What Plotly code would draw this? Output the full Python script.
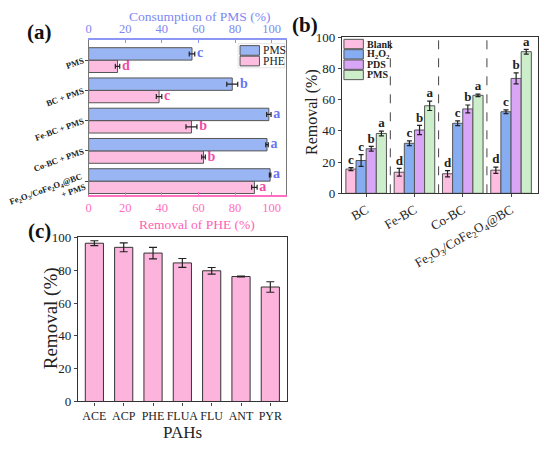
import plotly.graph_objects as go

# ---- panel (a): PMS consumption / PHE removal ----
a_labels = ["PMS", "BC + PMS", "Fe-BC + PMS", "Co-BC + PMS",
            "Fe<sub>2</sub>O<sub>3</sub>/CoFe<sub>2</sub>O<sub>4</sub>@BC<br>+ PMS"]
a_series = ["PMS", "PHE"]
a_pms = [56.5, 78.5, 98.5, 97.5, 99.2]
a_pms_err = [1.5, 3.0, 1.2, 0.7, 0.4]
a_pms_sig = ["c", "b", "a", "a", "a"]
a_phe = [15.8, 38.5, 56.2, 62.8, 90.6]
a_phe_err = [1.2, 1.5, 3.0, 1.0, 1.5]
a_phe_sig = ["d", "c", "b", "b", "a"]

# ---- panel (b): oxidant comparison ----
b_groups = ["BC", "Fe-BC", "Co-BC", "Fe<sub>2</sub>O<sub>3</sub>/CoFe<sub>2</sub>O<sub>4</sub>@BC"]
b_series = ["Blank", "H<sub>2</sub>O<sub>2</sub>", "PDS", "PMS"]
b_blank = [15.5, 13.5, 12.5, 14.8]
b_blank_err = [1.0, 2.5, 2.0, 2.0]
b_h2o2 = [21.0, 32.0, 44.8, 52.2]
b_h2o2_err = [3.8, 1.5, 1.5, 1.2]
b_pds = [28.5, 40.5, 54.0, 73.5]
b_pds_err = [1.5, 3.0, 2.5, 3.5]
b_pms = [38.3, 56.0, 62.7, 90.6]
b_pms_err = [1.5, 3.0, 0.8, 1.5]
b_sig = [["c", "d", "d", "d"], ["c", "c", "c", "c"],
         ["b", "b", "b", "b"], ["a", "a", "a", "a"]]

# ---- panel (c): PAHs ----
c_pahs = ["ACE", "ACP", "PHE", "FLUA", "FLU", "ANT", "PYR"]
c_removal = [96.5, 94.0, 90.5, 84.5, 79.7, 76.2, 69.8]
c_err = [1.5, 2.7, 3.5, 2.7, 2.0, 0.2, 3.2]

FONT = "Liberation Serif"
BLUE_TXT = "#6677f2"
PINK_TXT = "#f04aa8"
EDGE = "#555555"
a_colors = ["#9ab5f3", "#fdbde0"]
b_colors = ["#fdbde0", "#86acf2", "#d9a5f6", "#cdeecb"]

fig = go.Figure()

# panel (a) bars
ya = list(range(len(a_labels)))
fig.add_trace(go.Bar(
    y=ya, x=a_pms, orientation="h", offset=-0.41, width=0.41,
    name=a_series[0], showlegend=False, xaxis="x2", yaxis="y",
    marker=dict(color=a_colors[0], line=dict(color=EDGE, width=1)),
    error_x=dict(type="data", array=a_pms_err, color="#222", thickness=1.2, width=2.5)))
fig.add_trace(go.Bar(
    y=ya, x=a_phe, orientation="h", offset=0, width=0.41,
    name=a_series[1], showlegend=False, xaxis="x", yaxis="y",
    marker=dict(color=a_colors[1], line=dict(color=EDGE, width=1)),
    error_x=dict(type="data", array=a_phe_err, color="#222", thickness=1.2, width=2.5)))
fig.add_trace(go.Scatter(
    y=[v - 0.205 for v in ya], x=[v + e + 1.2 for v, e in zip(a_pms, a_pms_err)],
    xaxis="x2", yaxis="y", mode="text", text=[f"<b>{s}</b>" for s in a_pms_sig],
    textposition="middle right", textfont=dict(family=FONT, size=14, color=BLUE_TXT),
    showlegend=False, hoverinfo="skip", cliponaxis=False))
fig.add_trace(go.Scatter(
    y=[v + 0.205 for v in ya], x=[v + e + 1.2 for v, e in zip(a_phe, a_phe_err)],
    xaxis="x", yaxis="y", mode="text", text=[f"<b>{s}</b>" for s in a_phe_sig],
    textposition="middle right", textfont=dict(family=FONT, size=14, color=PINK_TXT),
    showlegend=False, hoverinfo="skip", cliponaxis=False))

# panel (b) bars
b_vals = [b_blank, b_h2o2, b_pds, b_pms]
b_errs = [b_blank_err, b_h2o2_err, b_pds_err, b_pms_err]
bw = 0.21
for k in range(4):
    xs = [g + (k - 1.5) * bw for g in range(len(b_groups))]
    fig.add_trace(go.Bar(
        x=xs, y=b_vals[k], width=bw, name=b_series[k], showlegend=False,
        xaxis="x3", yaxis="y3",
        marker=dict(color=b_colors[k], line=dict(color=EDGE, width=1)),
        error_y=dict(type="data", array=b_errs[k], color="#222", thickness=1.2, width=2.5)))
    fig.add_trace(go.Scatter(
        x=xs, y=[v + e + 0.3 for v, e in zip(b_vals[k], b_errs[k])],
        xaxis="x3", yaxis="y3", mode="text", text=[f"<b>{s}</b>" for s in b_sig[k]],
        textposition="top center", textfont=dict(family=FONT, size=13, color="#222"),
        showlegend=False, hoverinfo="skip", cliponaxis=False))

# panel (c) bars
fig.add_trace(go.Bar(
    x=c_pahs, y=c_removal, width=0.62, xaxis="x4", yaxis="y4", showlegend=False,
    marker=dict(color="#fdb4dc", line=dict(color="#333", width=1)),
    error_y=dict(type="data", array=c_err, color="#222", thickness=1.2, width=4)))

tickfont = dict(family=FONT, size=13, color="#222")
frame = dict(showline=True, mirror=True, linecolor="#333", linewidth=1.2, ticks="outside",
             ticklen=3, showgrid=False, zeroline=False, automargin=False)
fig.update_layout(
    template="none", autosize=True,
    margin=dict(l=0, r=0, t=0, b=0, pad=0),
    paper_bgcolor="white", plot_bgcolor="white", barmode="overlay", showlegend=False,
    font=dict(family=FONT, color="#222"),
    # (a)
    xaxis=dict(domain=[0.151, 0.52], anchor="y", range=[0, 107.7], tickvals=[0, 20, 40, 60, 80, 100],
               showline=True, linecolor="#ff6ec0", linewidth=1.5, ticks="inside", tickcolor="#ff6ec0",
               ticklen=3, showgrid=False, zeroline=False, automargin=False,
               tickfont=dict(family=FONT, size=12.5, color="#ff6ec0")),
    xaxis2=dict(overlaying="x", side="top", anchor="y", range=[0, 107.7],
                tickvals=[0, 20, 40, 60, 80, 100], automargin=False,
                showline=True, linecolor="#8c96f5", linewidth=1.5, ticks="inside", tickcolor="#8c96f5",
                ticklen=3, showgrid=False, zeroline=False,
                tickfont=dict(family=FONT, size=12.5, color="#7d88f4")),
    yaxis=dict(domain=[0.568, 0.9265], anchor="x", range=[4.46, -0.67], tickvals=ya, ticktext=a_labels,
               tickangle=-20, showline=True, mirror=True, linecolor="#777", linewidth=1,
               ticks="outside", ticklen=3, showgrid=False, zeroline=False, automargin=False,
               tickfont=dict(family=FONT, size=8.6, color="#222", weight="bold")),
    # (b)
    xaxis3=dict(domain=[0.6255, 0.9927], anchor="y3", range=[-0.5, 3.56],
                tickvals=list(range(len(b_groups))), ticktext=b_groups, tickangle=-30,
                tickfont=tickfont, **frame),
    yaxis3=dict(domain=[0.572, 0.933], anchor="x3", range=[0, 100], dtick=20, tickfont=tickfont,
                **frame),
    # (c)
    xaxis4=dict(domain=[0.131, 0.522], anchor="y4", range=[-0.56, 6.56], tickangle=0,
                tickfont=dict(family=FONT, size=12, color="#222"), **frame),
    yaxis4=dict(domain=[0.0913, 0.470], anchor="x4", range=[0, 100], dtick=20, tickfont=tickfont,
                **frame),
)

# dashed group separators in (b)
for sx in [0.5, 1.5, 2.5]:
    fig.add_shape(type="line", xref="x3", yref="y3 domain", x0=sx, x1=sx, y0=0, y1=1,
                  line=dict(color="#444", width=1, dash="dash"))


# helpers for placing things in pixel space of the 550x449 page
def px_x(p):
    return p / 550


def px_y(p):
    return 1 - p / 449


def label(text, x, y, font, angle=0):
    fig.add_annotation(text=text, x=px_x(x), y=px_y(y), xref="paper", yref="paper",
                       xanchor="center", yanchor="middle", showarrow=False, textangle=angle,
                       font=font)


def draw_legend(names, colors, x0, y0, sw, sh, font, box=None):
    if box:
        fig.add_shape(type="rect", xref="paper", yref="paper",
                      x0=px_x(box[0]), x1=px_x(box[1]), y0=px_y(box[2]), y1=px_y(box[3]),
                      fillcolor="white", line=dict(color="#dddddd", width=0.8))
    for i, (n, c) in enumerate(zip(names, colors)):
        top = y0 + i * sh
        fig.add_shape(type="rect", xref="paper", yref="paper",
                      x0=px_x(x0), x1=px_x(x0 + sw), y0=px_y(top + 0.5), y1=px_y(top + sh - 0.5),
                      fillcolor=c, line=dict(color=EDGE, width=1))
        fig.add_annotation(text=n, x=px_x(x0 + sw + 2), y=px_y(top + sh / 2), xref="paper", yref="paper",
                           xanchor="left", yanchor="middle", showarrow=False, font=font)


draw_legend(a_series, a_colors, 239, 38.5, 20, 11, dict(family=FONT, size=11.5, color="#222"),
            box=(237, 285, 37, 62))
draw_legend(b_series, b_colors, 346, 32, 20, 10.7, dict(family=FONT, size=10, color="#222",
                                                         weight="bold"))

# axis titles
label("Consumption of PMS (%)", 197, 9, dict(family=FONT, size=13.5, color="#7d88f4"))
label("Removal of PHE (%)", 195, 224, dict(family=FONT, size=13.5, color="#ff5fb6"))
label("Removal (%)", 313, 108, dict(family=FONT, size=16, color="#222"), angle=-90)
label("Removal (%)", 44, 322, dict(family=FONT, size=19, color="#222"), angle=-90)
label("PAHs", 180, 440, dict(family=FONT, size=17, color="#222"))

# panel letters
for txt, x, y in [("(a)", 32, 25), ("(b)", 306, 18), ("(c)", 32, 231)]:
    label(f"<b>{txt}</b>", x, y, dict(family=FONT, size=21, color="#111"))

fig.write_html("out.html")
